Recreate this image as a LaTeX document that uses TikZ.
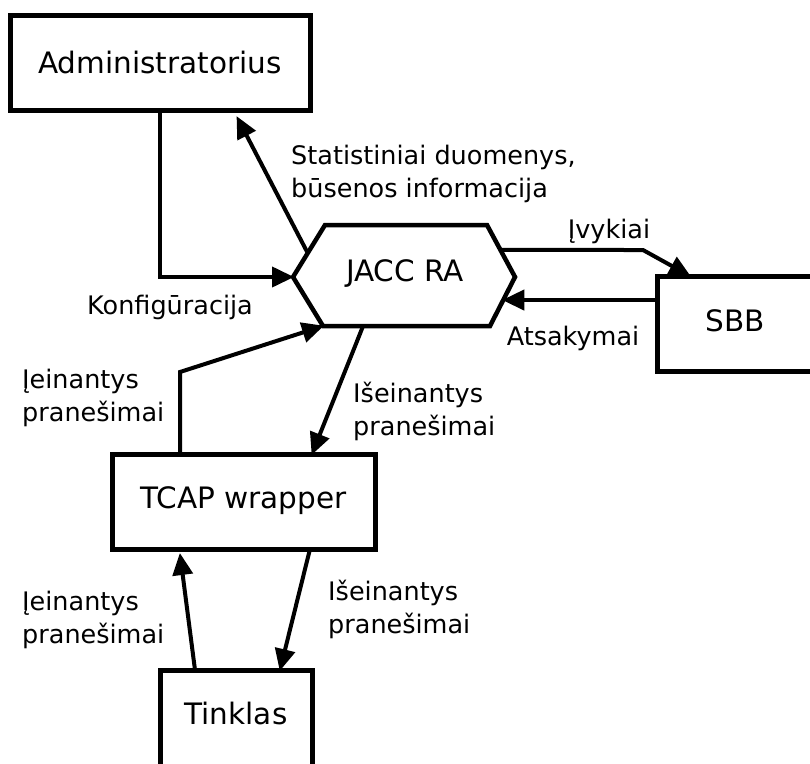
\documentclass[tikz,border=0pt]{standalone}
\usepackage{fontspec}
\setmainfont{DejaVu Sans}
\usetikzlibrary{arrows.meta,calc}
\begin{document}
\begin{tikzpicture}[x=1pt,y=-1pt,
  boxline/.style={draw, line width=5pt, inner sep=0pt, outer sep=0pt},
  boxtext/.style={font=\fontsize{29.5}{35}\selectfont, inner sep=0pt},
  lbl/.style={font=\fontsize{25.5}{33}\selectfont, align=left, anchor=west, inner sep=0pt},
  flow/.style={line width=4pt, -{Triangle[length=22pt,width=20pt]}, shorten >=-1pt}]
  \useasboundingbox (0,0) rectangle (810,763);

  % boxes
  \node[boxline, minimum width=300, minimum height=95] (admin) at (160,62.5) {};
  \node[boxtext] (admintxt) at (160,62) {Administratorius};

  \node[boxline, minimum width=263, minimum height=95] (tcap) at (243.5,501.5) {};
  \node[boxtext] (tcaptxt) at (243.5,501) {TCAP wrapper};

  \node[boxline, minimum width=170, minimum height=95, anchor=north west] (sbb) at (657,276) {};
  \node[boxtext] (sbbtxt) at (735,321) {SBB};

  \node[boxline, minimum width=152, minimum height=130, anchor=north west] (tinklas) at (160,670) {};
  \node[boxtext] (tinklastxt) at (236,713) {Tinklas};

  % hexagon
  \coordinate (hW) at (293,277);
  \coordinate (hNW) at (325,225);
  \coordinate (hNE) at (487,225);
  \coordinate (hE) at (515,277);
  \coordinate (hSE) at (490,326);
  \coordinate (hSW) at (323,326);
  \draw[line width=4.5pt, line join=miter] (hW) -- (hNW) -- (hNE) -- (hE) -- (hSE) -- (hSW) -- cycle;
  \node[boxtext] (jacc) at (405,273) {JACC RA};

  % connector end points on the hexagon
  \coordinate (statOut) at ($(hW)!0.46!(hNW)$);
  \coordinate (evOut) at ($(hNE)!0.48!(hE)$);
  \coordinate (ansIn) at ($(hE)!0.47!(hSE)$);
  \coordinate (msgOut) at ($(hSW)!0.24!(hSE)$);
  \coordinate (adminTip) at (237,117);

  % connectors
  \draw[flow] (160,110) -- (160,277) -- (hW);
  \draw[flow] (statOut) -- (adminTip);
  \draw[flow] (evOut) -- (643,250) -- (690,276);
  \draw[flow] (sbb.west |- ansIn) -- (ansIn);
  \draw[flow] (180,454) -- (180,372) -- (hSW);
  \draw[flow] (msgOut) -- (312,454);
  \draw[flow] (195,670) -- (180,554);
  \draw[flow] (310,549) -- (280,670);

  % labels
  \node[lbl] (lstat) at (291,174) {Statistiniai duomenys,\\būsenos informacija};
  \node[lbl, anchor=center] (lkonf) at (170,307) {Konfigūracija};
  \node[lbl, anchor=center] (lev) at (609,231) {Įvykiai};
  \node[lbl, anchor=center] (lans) at (573,338) {Atsakymai};
  \node[lbl] (lin1) at (22,398) {Įeinantys\\pranešimai};
  \node[lbl] (lout1) at (353,411) {Išeinantys\\pranešimai};
  \node[lbl] (lin2) at (22,620) {Įeinantys\\pranešimai};
  \node[lbl] (lout2) at (328,609) {Išeinantys\\pranešimai};
\end{tikzpicture}
\end{document}
